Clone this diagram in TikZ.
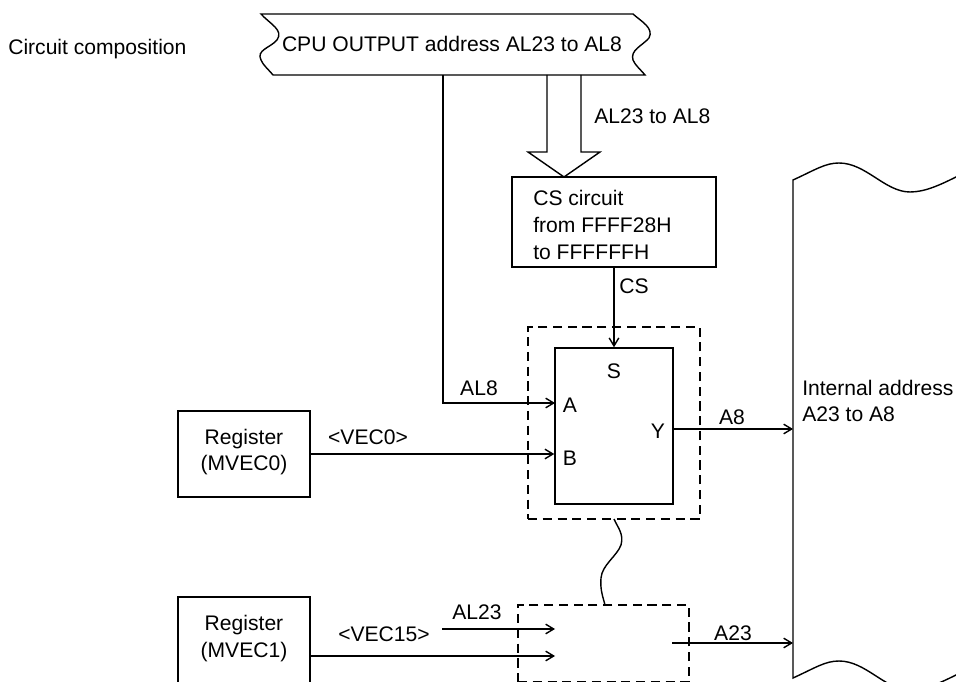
\documentclass[tikz,border=0pt]{standalone}
\usepackage{fontspec}
\setmainfont{Liberation Sans}
\usetikzlibrary{arrows.meta,positioning}
\tikzset{
  sig/.style={line width=1pt,-{Straight Barb[length=2mm,width=2.4mm]}},
  wire/.style={line width=1pt},
  blockbox/.style={draw,line width=1pt,minimum width=#1},
  dashbox/.style={draw,line width=1pt,dash pattern=on 6.5pt off 4pt,minimum width=#1},
  lbl/.style={inner sep=0pt},
}
\begin{document}
\begin{tikzpicture}[x=0.025cm,y=-0.025cm,font=\fontsize{15pt}{19pt}\selectfont]
\clip (0,0) rectangle (956,682);
\useasboundingbox (0,0) rectangle (956,682);
% address bus
\draw[wire] (261,14) .. controls (270,24) and (284,30) .. (277,40) .. controls (270,48) and (256,50) .. (261,60) .. controls (263,65) and (268,69) .. (273,75)
  -- (645,75) .. controls (640,69) and (635,65) .. (633,60) .. controls (630,50) and (642,46) .. (649,38) .. controls (654,28) and (642,22) .. (633,14) -- cycle;
\node[lbl] (bus) at (452,44) {CPU OUTPUT address AL23 to AL8};
\node[lbl,anchor=west] (title) at (8,49) {Circuit composition};
% CS circuit and hollow arrow
\node[blockbox=5.1cm,minimum height=2.25cm] (cs) at (614,222) {};
\node[lbl,anchor=west,align=left] (cstext) at (533,225) {CS circuit\\from FFFF28H\\to FFFFFFH};
\coordinate (csin) at (564,177);
\draw[wire,line join=miter] (547,75) -- (547,152) -- (528,152) -- (csin) -- (600,152) -- (581,152) -- (581,75);
\node[lbl,anchor=west] (busname) at (594,116) {AL23 to AL8};
% selector
\node[dashbox=4.3cm,minimum height=4.8cm] (group) at (614,423) {};
\node[blockbox=2.95cm,minimum height=3.9cm] (mux) at (614,426) {};
\node[lbl] (muxS) at (614,371) {S};
\node[lbl] (muxA) at (570,405) {A};
\node[lbl] (muxB) at (570,458) {B};
\node[lbl] (muxY) at (658,431) {Y};
\node[lbl] (csname) at (634,286) {CS};
\draw[sig] (cs.south) -- (mux.north);
% first register
\node[blockbox=3.3cm,minimum height=2.15cm] (reg0) at (244,454) {};
\node[lbl,align=center] (reg0text) at (244,452) {Register\\(MVEC0)};
\node[lbl] (vec0) at (368,437) {<VEC0>};
\draw[sig] (reg0.east) -- (reg0.east -| mux.west);
\coordinate (al8in) at (443,75);
\coordinate (al8pin) at (555,403);
\draw[sig] (al8in) |- (al8pin);
\node[lbl] (al8) at (479,388) {AL8};
% internal address
\draw[wire] (958,176) .. controls (940,185) and (925,192) .. (910,192) .. controls (885,192) and (866,163) .. (839,163) .. controls (825,163) and (815,170) .. (793,180)
  -- (793,678) .. controls (815,668) and (825,661) .. (839,661) .. controls (866,661) and (885,690) .. (910,690) .. controls (925,690) and (940,683) .. (958,674);
\coordinate (inA8) at (793,429);
\coordinate (inA23) at (793,643);
\draw[sig] (mux.east |- inA8) -- (inA8);
\node[lbl] (a8) at (732,417) {A8};
\node[lbl,anchor=west,align=left] (internal) at (802,401) {Internal address\\A23 to A8};
% last register, cut off at the bottom
\node[dashbox=4.275cm,minimum height=1.925cm] (grouplast) at (603.5,643.5) {};
\node[blockbox=3.3cm,minimum height=2.15cm] (reg1) at (244,640) {};
\node[lbl,align=center] (reg1text) at (244,638.5) {Register\\(MVEC1)};
\node[lbl] (vec15) at (384,634) {<VEC15>};
\node[lbl] (al23) at (477,612) {AL23};
\node[lbl] (a23) at (733,633) {A23};
\coordinate (al23in) at (442,629);
\coordinate (al23pin) at (555,629);
\coordinate (vec15pin) at (555,656);
\coordinate (a23out) at (672,643);
\draw[sig] (al23in) -- (al23pin);
\draw[sig] (reg1.east |- vec15pin) -- (vec15pin);
\draw[sig] (a23out) -- (inA23);
% break between the groups
\coordinate (breaktop) at (614,519);
\coordinate (breakend) at (605,605);
\draw[wire] (breaktop) .. controls (618,528) and (624,534) .. (621,545) .. controls (617,556) and (602,565) .. (601,578) .. controls (600,590) and (603,597) .. (breakend);
\end{tikzpicture}
\end{document}
